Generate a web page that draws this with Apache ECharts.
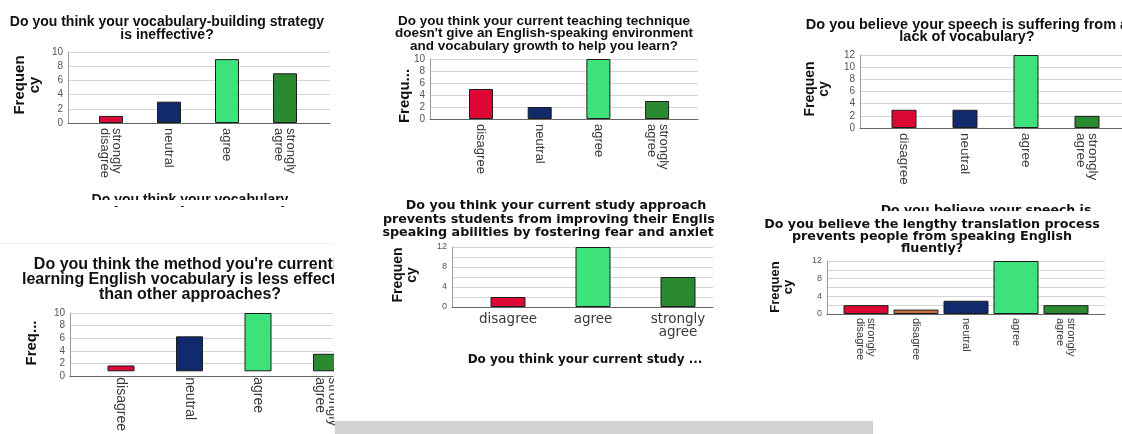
<!DOCTYPE html>
<html lang="en">
<head>
<meta charset="UTF-8">
<title>Vocabulary survey charts</title>
<script src="https://cdn.jsdelivr.net/npm/echarts@6/dist/echarts.min.js"></script>
<style>
	html,body{margin:0;padding:0;background:#fff;}
	#chart{width:1122px;height:434px;}
</style>
</head>
<body>
<div id="chart"></div>
<script>
	// survey answers, one pair of arrays per panel
	var cats1 = ['strongly\ndisagree', 'neutral', 'agree', 'strongly\nagree'];
	var freq1 = [1, 3, 9, 7];
	var cats2 = ['disagree', 'neutral', 'agree', 'strongly\nagree'];
	var freq2 = [5, 2, 10, 3];
	var cats3 = ['disagree', 'neutral', 'agree', 'strongly\nagree'];
	var freq3 = [3, 3, 12, 2];
	var cats4 = ['disagree', 'neutral', 'agree', 'strongly\nagree'];
	var freq4 = [1, 6, 10, 3];
	var cats5 = ['disagree', 'agree', 'strongly\nagree'];
	var freq5 = [2, 12, 6];
	var cats6 = ['strongly\ndisagree', 'disagree', 'neutral', 'agree', 'strongly\nagree'];
	var freq6 = [2, 1, 3, 12, 2];

	var titles = [
		'Do you think your vocabulary-building strategy\nis ineffective?',
		'Do you think your current teaching technique\ndoesn\'t give an English-speaking environment\nand vocabulary growth to help you learn?',
		'Do you believe your speech is suffering from a\nlack of vocabulary?',
		'Do you think the method you\'re currently\nlearning English vocabulary is less effective\nthan other approaches?',
		'Do you think your current study approach\nprevents students from improving their English-\nspeaking abilities by fostering fear and anxiety?',
		'Do you believe the lengthy translation process\nprevents people from speaking English\nfluently?'
	];
	var yNames = ['Frequen\ncy', 'Frequ...', 'Frequen\ncy', 'Freq...', 'Frequen\ncy', 'Frequen\ncy'];

	var RED = '#dc0733', NAVY = '#102a6c', LGREEN = '#3ee27b', DGREEN = '#2b8a2f', ORANGE = '#c8703e';
	var FONT = '"Liberation Sans", Arial, sans-serif';
	var WIDE = '"DejaVu Sans", Verdana, sans-serif';

	// layout of every panel (pixels)
	var panels = [
		{cats: cats1, vals: freq1, colors: [RED, NAVY, LGREEN, DGREEN], x0: 68, x1: 330, yTop: 52, yZero: 123, max: 10, step: 2, labStep: 2,
			c0: 111, gap: 58, bw: 24, rot: -90, lab: 13, labLH: 12, labMargin: 5, tick: 10, labFont: FONT,
			tx: 167, ty: 22, tsize: 14, tlh: 13, tfont: FONT, nx: 27, ny: 85, nsize: 15},
		{cats: cats2, vals: freq2, colors: [RED, NAVY, LGREEN, DGREEN], x0: 430, x1: 698, yTop: 59, yZero: 119, max: 10, step: 2, labStep: 2,
			c0: 481, gap: 58.7, bw: 24, rot: -90, lab: 13, labLH: 12, labMargin: 5, tick: 10, labFont: FONT,
			tx: 544, ty: 21, tsize: 13.5, tlh: 12.5, tfont: FONT, nx: 405, ny: 96, nsize: 15},
		{cats: cats3, vals: freq3, colors: [RED, NAVY, LGREEN, DGREEN], x0: 860, x1: 1140, yTop: 55, yZero: 128, max: 12, step: 2, labStep: 2,
			c0: 904, gap: 61, bw: 25, rot: -90, lab: 13.5, labLH: 12, labMargin: 5, tick: 10, labFont: FONT,
			tx: 967, ty: 25, tsize: 14.5, tlh: 12, tfont: FONT, nx: 817, ny: 89, nsize: 14},
		{cats: cats4, vals: freq4, colors: [RED, NAVY, LGREEN, DGREEN], x0: 70, x1: 333, yTop: 313, yZero: 376, max: 10, step: 2, labStep: 2,
			c0: 121, gap: 68.5, bw: 27, rot: -90, lab: 14, labLH: 13, labMargin: 6, tick: 10, labFont: FONT,
			tx: 190, ty: 265, tsize: 16, tlh: 15, tfont: FONT, nx: 32, ny: 343, nsize: 15},
		{cats: cats5, vals: freq5, colors: [RED, LGREEN, DGREEN], x0: 452, x1: 713, yTop: 247, yZero: 307, max: 12, step: 2, labStep: 4,
			c0: 508, gap: 85, bw: 35, rot: 0, lab: 13.5, labLH: 13, labMargin: 6, tick: 9, labFont: WIDE,
			tx: 556, ty: 206, tsize: 12.7, tlh: 13.5, tfont: WIDE, nx: 405, ny: 275, nsize: 14},
		{cats: cats6, vals: freq6, colors: [RED, ORANGE, NAVY, LGREEN, DGREEN], x0: 827, x1: 1105, yTop: 261, yZero: 314, max: 12, step: 2, labStep: 4,
			c0: 866, gap: 50, bw: 45, rot: -90, lab: 11, labLH: 11, labMargin: 4, tick: 9, labFont: FONT,
			tx: 932, ty: 225, tsize: 12.7, tlh: 11.7, tfont: WIDE, nx: 782, ny: 287, nsize: 13}
	];

	var grid = [], xAxis = [], yAxis = [], series = [], graphics = [];

	panels.forEach(function(p, i) {
		var fg = i * 2, bg = i * 2 + 1;
		var h = p.yZero - p.yTop;
		// frame grid: axis line, ticks, gridlines
		grid.push({left: p.x0, top: p.yTop, width: p.x1 - p.x0, height: h});
		// bar grid: category bands where SPSS puts the bars
		grid.push({left: p.c0 - p.gap / 2, top: p.yTop, width: p.gap * p.cats.length, height: h});

		xAxis.push({gridIndex: fg, type: 'category', data: [''], axisTick: {show: false}, axisLabel: {show: false},
			axisLine: {lineStyle: {color: '#666'}}});
		xAxis.push({gridIndex: bg, type: 'category', data: p.cats, axisLine: {show: false}, axisTick: {show: false},
			axisLabel: {interval: 0, rotate: p.rot, fontSize: p.lab, lineHeight: p.labLH, margin: p.labMargin, color: '#3a3a3a', fontFamily: p.labFont}});

		yAxis.push({gridIndex: fg, type: 'value', min: 0, max: p.max, interval: p.step,
			axisLine: {show: true, lineStyle: {color: '#9a9a9a'}}, axisTick: {show: false},
			axisLabel: {fontSize: p.tick, color: '#555', margin: 5, fontFamily: FONT,
				formatter: function(v) { return v % p.labStep === 0 ? v : ''; }},
			splitLine: {lineStyle: {color: '#d5d5d5'}}});
		yAxis.push({gridIndex: bg, type: 'value', min: 0, max: p.max, show: false});

		series.push({
			type: 'bar', xAxisIndex: bg, yAxisIndex: bg, barWidth: p.bw, silent: true,
			itemStyle: {borderColor: '#1c1c1c', borderWidth: 1},
			data: p.vals.map(function(v, k) { return {value: v, itemStyle: {color: p.colors[k]}}; })
		});

		graphics.push({type: 'text', x: p.tx, y: p.ty - p.tlh / 2, z: 50,
			style: {text: titles[i], font: 'bold ' + p.tsize + 'px ' + p.tfont, fill: '#111', align: 'center', verticalAlign: 'top', lineHeight: p.tlh}});
		graphics.push({type: 'text', x: p.nx, y: p.ny, rotation: Math.PI / 2, z: 50,
			style: {text: yNames[i], font: 'bold ' + p.nsize + 'px ' + FONT, fill: '#111', align: 'center', verticalAlign: 'middle', lineHeight: p.nsize}});
	});

	// axis title under panel 5 and the half hidden titles of the panels behind
	graphics.push({type: 'text', x: 585, y: 360, z: 50,
		style: {text: 'Do you think your current study ...', font: 'bold 12px ' + WIDE, fill: '#111', align: 'center', verticalAlign: 'middle'}});
	graphics.push({type: 'text', x: 190, y: 200, z: 50,
		style: {text: 'Do you think your vocabulary', font: 'bold 14px ' + FONT, fill: '#111', align: 'center', verticalAlign: 'middle'}});
	graphics.push({type: 'text', x: 986, y: 211, z: 50,
		style: {text: 'Do you believe your speech is', font: 'bold 12.5px ' + WIDE, fill: '#111', align: 'center', verticalAlign: 'middle'}});

	// white masks where the screenshots overlap / are cropped
	graphics.push({type: 'rect', z: 100, shape: {x: 60, y: 200, width: 260, height: 6}, style: {fill: '#fff'}});
	graphics.push({type: 'rect', z: 100, shape: {x: 870, y: 211, width: 240, height: 7}, style: {fill: '#fff'}});
	graphics.push({type: 'rect', z: 100, shape: {x: 334, y: 200, width: 46, height: 221}, style: {fill: '#fff'}});
	graphics.push({type: 'rect', z: 100, shape: {x: 714, y: 190, width: 48, height: 231}, style: {fill: '#fff'}});
	graphics.push({type: 'line', z: 100, shape: {x1: 0, y1: 243.5, x2: 333, y2: 243.5}, style: {stroke: '#f0f0f0', lineWidth: 1}});
	// grey strip at the bottom
	graphics.push({type: 'rect', z: 110, shape: {x: 335, y: 421, width: 538, height: 13}, style: {fill: '#d2d2d2'}});

	var myChart = echarts.init(document.getElementById('chart'), null, {renderer: 'canvas'});
	myChart.setOption({
		animation: false,
		textStyle: {fontFamily: FONT},
		grid: grid,
		xAxis: xAxis,
		yAxis: yAxis,
		series: series,
		graphic: {elements: graphics}
	});
</script>
</body>
</html>
